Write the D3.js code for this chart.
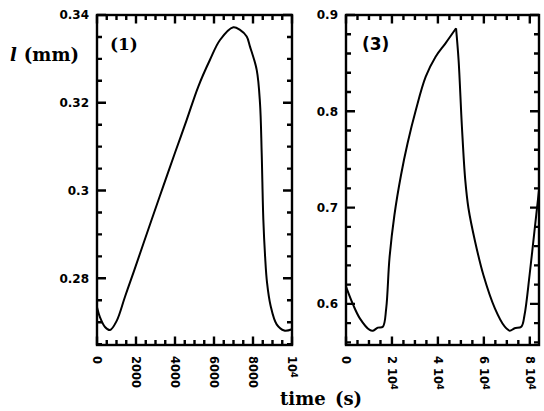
<!DOCTYPE html>
<html>
<head>
<meta charset="utf-8">
<script src="https://cdn.jsdelivr.net/npm/d3@7"></script>
<style>
  body { margin: 0; background: #fff; }
  svg { display: block; }
  .lab { font-family: "DejaVu Sans", sans-serif; font-weight: bold; fill: #000; }
</style>
</head>
<body>
<svg id="chart" width="544" height="411"></svg>
<script>
// panel (1): time in s, length in mm
const t1 = [0, 154, 410, 667, 1010, 1436, 1900, 2805, 3400, 4000, 4600, 5195, 5795, 6308,
            6990, 7333, 7677, 7846, 8190, 8359, 8445, 8530, 8620, 8720, 8900, 9214, 9600, 10000];
const l1 = [0.2734, 0.2711, 0.2689, 0.2682, 0.2703, 0.2758, 0.2817, 0.2934, 0.3010, 0.3086,
            0.3161, 0.3237, 0.3298, 0.3343, 0.3372, 0.3366, 0.3351, 0.3328, 0.3275, 0.3199,
            0.3086, 0.2934, 0.2850, 0.2790, 0.2738, 0.2695, 0.2681, 0.2684];

// panel (3)
const t3 = [0, 3140, 6022, 10322, 11743, 13890, 16043, 17500, 18924, 21075, 23950, 26800,
            30400, 34700, 39000, 43300, 47900, 49000, 50450, 51900, 53300, 56200, 59800,
            64800, 69100, 71270, 73400, 76300, 77700, 79900, 82000, 84000];
const l3 = [0.6179, 0.5989, 0.5850, 0.5729, 0.5722, 0.5753, 0.5763, 0.5954, 0.6474, 0.6923,
            0.7339, 0.7668, 0.8014, 0.8359, 0.8567, 0.8706, 0.8862, 0.8533, 0.7840, 0.7287,
            0.6993, 0.6646, 0.6300, 0.5954, 0.5763, 0.5722, 0.5747, 0.5763, 0.5885, 0.6300,
            0.6750, 0.7180];

// tick values and labels ("^" marks a superscript)
const x1Ticks = [0, 2000, 4000, 6000, 8000, 10000];
const x1Labels = ["0", "2000", "4000", "6000", "8000", "10^4"];
const y1Ticks = [0.28, 0.30, 0.32, 0.34];
const y1Labels = ["0.28", "0.3", "0.32", "0.34"];
const x3Ticks = [0, 20000, 40000, 60000, 80000];
const x3Labels = ["0", "2 10^4", "4 10^4", "6 10^4", "8 10^4"];
const y3Ticks = [0.6, 0.7, 0.8, 0.9];
const y3Labels = ["0.6", "0.7", "0.8", "0.9"];

const svg = d3.select("#chart");
const yTop = 15, yBottom = 345;

function panel(opt) {
  const x = d3.scaleLinear().domain(opt.xDomain).range([opt.left, opt.right]);
  const y = d3.scaleLinear().domain(opt.yDomain).range([yBottom, yTop]);
  const g = svg.append("g");

  const xMinor = d3.range(opt.xDomain[0], opt.xDomain[1] + 1e-9, opt.xMinor);
  const yMinor = d3.range(Math.ceil(opt.yDomain[0] / opt.yMinor - 1e-6) * opt.yMinor,
                          opt.yDomain[1] + 1e-9, opt.yMinor);

  // inward ticks on all four sides, one path
  const p = d3.path();
  function addX(vals, len) {
    vals.forEach(v => {
      const px = x(v);
      p.moveTo(px, yBottom); p.lineTo(px, yBottom - len);
      p.moveTo(px, yTop); p.lineTo(px, yTop + len);
    });
  }
  function addY(vals, len) {
    vals.forEach(v => {
      const py = y(v);
      p.moveTo(opt.left, py); p.lineTo(opt.left + len, py);
      p.moveTo(opt.right, py); p.lineTo(opt.right - len, py);
    });
  }
  addX(xMinor, 5);
  addY(yMinor, 5);
  addX(opt.xTicks, 8.5);
  addY(opt.yTicks, 9);
  g.append("path").attr("d", p.toString())
    .attr("fill", "none").attr("stroke", "#000").attr("stroke-width", 2.4);

  // y labels
  g.append("g").selectAll("text").data(opt.yTicks).join("text")
    .attr("class", "lab").style("font-size", "12px")
    .attr("x", opt.left - 8).attr("y", d => y(d)).attr("dy", "0.36em")
    .attr("text-anchor", "end")
    .text((d, i) => opt.yLabels[i]);

  // rotated x labels with superscripts
  g.append("g").selectAll("text").data(opt.xTicks).join("text")
    .attr("class", "lab").style("font-size", "11.5px")
    .attr("transform", d => `translate(${x(d)},${yBottom + 11}) rotate(90)`)
    .attr("dy", "0.36em").attr("text-anchor", "start")
    .each(function(d, i) {
      const parts = opt.xLabels[i].split("^");
      const txt = d3.select(this);
      txt.append("tspan").text(parts[0]);
      if (parts[1]) {
        txt.append("tspan").attr("dy", "-0.45em").style("font-size", "8px").text(parts[1]);
      }
    });

  // frame
  g.append("rect")
    .attr("x", opt.left).attr("y", yTop)
    .attr("width", opt.right - opt.left).attr("height", yBottom - yTop)
    .attr("fill", "none").attr("stroke", "#000").attr("stroke-width", 2.4);

  const line = d3.line()
    .x(d => x(d[0])).y(d => y(d[1]))
    .curve(d3.curveCatmullRom.alpha(0.5));
  opt.segments.forEach(seg => {
    g.append("path").datum(seg)
      .attr("d", line)
      .attr("fill", "none").attr("stroke", "#000").attr("stroke-width", 2);
  });

  g.append("text")
    .attr("x", opt.tagX).attr("y", 50)
    .style("font-family", opt.tagFont).style("font-weight", "bold")
    .style("font-size", "17px")
    .text(opt.tag);
}

const pts1 = t1.map((t, i) => [t, l1[i]]);
const pts3 = t3.map((t, i) => [t, l3[i]]);
const peak = d3.maxIndex(l3);

panel({
  left: 97, right: 292,
  xDomain: [0, 10000], yDomain: [0.2648, 0.34],
  xMinor: 500, yMinor: 0.005,
  xTicks: x1Ticks, xLabels: x1Labels, yTicks: y1Ticks, yLabels: y1Labels,
  segments: [pts1],
  tag: "(1)", tagX: 110, tagFont: "DejaVu Serif"
});

panel({
  left: 346, right: 539,
  xDomain: [0, 84000], yDomain: [0.5573, 0.9],
  xMinor: 5000, yMinor: 0.02,
  xTicks: x3Ticks, xLabels: x3Labels, yTicks: y3Ticks, yLabels: y3Labels,
  segments: [pts3.slice(0, peak + 1), pts3.slice(peak)],
  tag: "(3)", tagX: 362, tagFont: "DejaVu Sans"
});

// axis titles
const yt = svg.append("text")
  .attr("x", 10).attr("y", 61)
  .style("font-family", "DejaVu Serif").style("font-weight", "bold").style("font-size", "18px");
yt.append("tspan").style("font-style", "italic").text("l");
yt.append("tspan").attr("dx", 7).text("(mm)");

svg.append("text")
  .attr("x", 280).attr("y", 405)
  .style("font-family", "DejaVu Serif").style("font-weight", "bold").style("font-size", "18px")
  .style("word-spacing", "3px")
  .text("time (s)");
</script>
</body>
</html>
